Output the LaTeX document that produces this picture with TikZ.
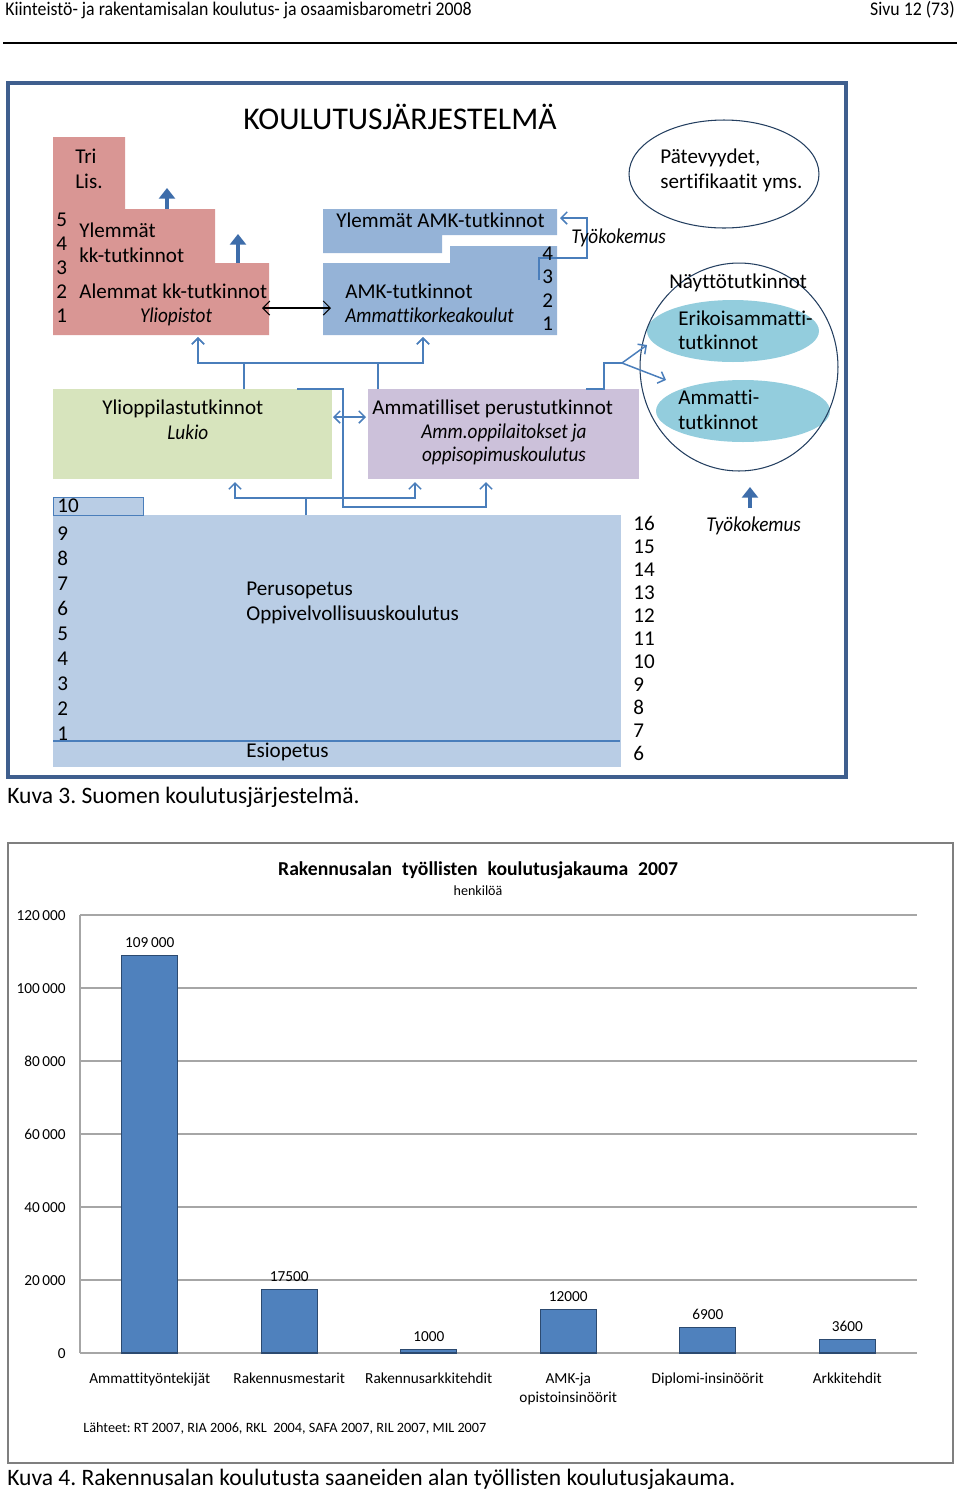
\documentclass[tikz,border=0pt]{standalone}
\usepackage{fontspec}
\setmainfont{Carlito}[Ligatures=NoCommon, ItalicFeatures={FakeStretch=0.91}]
\newfontfamily\headfont[FakeStretch=0.92, Ligatures=NoCommon]{Carlito}
\usetikzlibrary{arrows.meta,shapes.geometric}
\frenchspacing

\definecolor{framebl}{HTML}{3F5F8E}
\definecolor{linkbl}{HTML}{4A7EBB}
\definecolor{thickbl}{HTML}{3E6DAA}
\definecolor{redstep}{HTML}{D99694}
\definecolor{amkbl}{HTML}{95B3D7}
\definecolor{perusbl}{HTML}{B9CDE5}
\definecolor{lukiogr}{HTML}{D7E4BD}
\definecolor{ammpu}{HTML}{CCC1DA}
\definecolor{nayttote}{HTML}{93CDDD}
\definecolor{ellline}{HTML}{243F60}
\definecolor{barbl}{HTML}{4F81BD}
\definecolor{barline}{HTML}{2C4A70}
\definecolor{gridgr}{HTML}{A6A6A6}
\definecolor{chartfr}{HTML}{7F7F7F}

\begin{document}
\begin{tikzpicture}
        [
        x=0.02cm, y=-0.02cm,
        font=\fontsize{12}{14.5}\selectfont,
        txt/.style={inner sep=0pt, anchor=base west},
        ctxt/.style={inner sep=0pt, anchor=base},
        rtxt/.style={inner sep=0pt, anchor=base east},
        box/.style={rectangle, inner sep=0pt},
        oval/.style={ellipse, inner sep=0pt},
        link/.style={draw=linkbl, line width=0.85pt},
        linkto/.style={link, -{Straight Barb[length=3.5pt,width=7pt]}},
        linkboth/.style={link, {Straight Barb[length=3.5pt,width=7pt]}-{Straight Barb[length=3.5pt,width=7pt]}},
        upstep/.style={draw=thickbl, line width=2.8pt, -{Triangle[length=6pt,width=9pt]}},
        chartlab/.style={font=\fontsize{8.7}{10}\selectfont},
        bar/.style={fill=barbl, draw=barline, line width=0.6pt},
        ]
                \useasboundingbox (0,0) rectangle (960,1492);

                % page header
                \node[txt, font=\headfont\fontsize{11}{12}\selectfont] (hdr) at (5,15)
                        {Kiinteistö- ja rakentamisalan koulutus- ja osaamisbarometri 2008};
                \node[rtxt, font=\headfont\fontsize{11}{12}\selectfont] (sivu) at (955,15) {Sivu 12 (73)};
                \draw[black, line width=0.6pt] (3,43) -- (957,43);

                % frame of the diagram
                \draw[framebl, line width=2.2pt] (8,83) rectangle (846,777);
                \node[ctxt, font=\fontsize{18}{20}\selectfont] (title) at (400,129) {KOULUTUSJÄRJESTELMÄ};

                % yliopistot (stairs) and amk
                \fill[redstep] (53,137) -- (125,137) -- (125,209) -- (215,209) -- (215,263)
                        -- (269,263) -- (269,335) -- (53,335) -- cycle;
                \fill[amkbl] (323,209) -- (557,209) -- (557,235) -- (442,235) -- (442,253) -- (323,253) -- cycle;
                \fill[amkbl] (450,246) -- (557,246) -- (557,335) -- (323,335) -- (323,263) -- (450,263) -- cycle;

                % boxes
                \node[box, fill=lukiogr, minimum width=5.58cm, minimum height=1.8cm] (lukio) at (192.5,434) {};
                \node[box, fill=ammpu, minimum width=5.42cm, minimum height=1.8cm] (ammatill) at (503.5,434) {};
                \node[box, fill=perusbl, minimum width=11.36cm, minimum height=5.04cm] (perus) at (337,641) {};
                \node[box, fill=perusbl, draw=linkbl, line width=0.6pt, minimum width=1.8cm, minimum height=0.36cm] (kymppi) at (98.5,506.5) {};
                \draw[linkbl, line width=0.7pt] (53,741) -- (620,741);

                % ovals
                \node[oval, draw=ellline, line width=0.6pt, minimum width=3.8cm, minimum height=2.16cm] (patevyys) at (724,174) {};
                \node[oval, fill=nayttote, minimum width=3.44cm, minimum height=1.24cm] (erikois) at (733,331) {};
                \node[oval, fill=nayttote, minimum width=3.48cm, minimum height=1.24cm] (ammatti) at (743,411) {};
                \node[oval, draw=ellline, line width=0.6pt, minimum width=3.96cm, minimum height=4.16cm] (naytto) at (739,367) {};

                % connector ends
                \coordinate (yoin)    at (198,337);
                \coordinate (amkin)   at (423,337);
                \coordinate (lukout)  at (244,389);
                \coordinate (ammout)  at (378,389);
                \coordinate (lukloop) at (297,389);
                \coordinate (perout)  at (306,515);
                \coordinate (lukin)   at (235,482);
                \coordinate (ammin)   at (415,482);
                \coordinate (ammin2)  at (486,482);
                \coordinate (ammright) at (586,389);
                \coordinate (split)   at (622,363);
                \coordinate (erin)    at (647,345);
                \coordinate (amtin)   at (666,380);
                \coordinate (amkout)  at (539,280);
                \coordinate (ylamkin) at (560,218);
                \coordinate (yoside)  at (262,308);
                \coordinate (amkside) at (331,308);
                \coordinate (lukside) at (333,417);
                \coordinate (ammside) at (366,417);

                % drawing code
                \foreach \from/\to in {lukout/yoin,lukout/amkin,ammout/yoin,ammout/amkin}
                        \draw[linkto] (\from) -- ++(0,-26) -| (\to);
                \foreach \to in {lukin,ammin}
                        \draw[linkto] (perout) -- ++(0,-17) -| (\to);
                \draw[linkto] (lukloop) -- ++(46,0) -- ++(0,118) -| (ammin2);
                \draw[link] (ammright) -- ++(18,0) |- (split);
                \foreach \to in {erin,amtin} \draw[linkto] (split) -- (\to);
                \draw[linkto] (amkout) -- ++(0,-22) -- ++(48,0) |- (ylamkin);
                \draw[linkboth] (lukside) -- (ammside);
                \draw[black, line width=0.6pt, {Straight Barb[length=4pt,width=8pt]}-{Straight Barb[length=4pt,width=8pt]}] (yoside) -- (amkside);
                \foreach \x/\a/\b in {167/209/188, 238/263/234, 750/508/487}
                        \draw[upstep] (\x,\a) -- (\x,\b);

                % texts of yliopistot and amk
                \node[txt] (tri) at (75,163) {Tri};
                \node[txt] (lis) at (75,188) {Lis.};
                \foreach \n [count=\i] in {5,4,3,2,1}
                        \node[txt] (yo\n) at (56,202+24*\i) {\n};
                \node[txt] (ylemmat) at (79,237) {Ylemmät};
                \node[txt] (kktutk) at (79,262) {kk-tutkinnot};
                \node[txt] (alemmat) at (79,298) {Alemmat kk-tutkinnot};
                \node[ctxt] (yliop) at (176,322) {\itshape Yliopistot};
                \node[txt] (ylamk) at (336,227) {Ylemmät AMK-tutkinnot};
                \foreach \n/\y in {4/260,3/283,2/307,1/330}
                        \node[txt] (amk\n) at (542,\y) {\n};
                \node[txt] (amktutk) at (345,298) {AMK-tutkinnot};
                \node[txt] (amkkoul) at (345,322) {\itshape Ammattikorkeakoulut};
                \node[txt] (tyok1) at (571,243) {\itshape Työkokemus};

                % texts of ovals
                \node[txt] (pat1) at (660,163) {Pätevyydet,};
                \node[txt] (pat2) at (660,188) {sertifikaatit yms.};
                \node[txt] (naytt) at (669,288) {Näyttötutkinnot};
                \node[txt] (eri1) at (678,325) {Erikoisammatti-};
                \node[txt] (eri2) at (678,349) {tutkinnot};
                \node[txt] (amt1) at (678,404) {Ammatti-};
                \node[txt] (amt2) at (678,429) {tutkinnot};

                % texts of the middle row
                \node[txt] (ylioppi) at (102,414) {Ylioppilastutkinnot};
                \node[txt] (lukiot) at (167,439) {\itshape Lukio};
                \node[txt] (ammper) at (372,414) {Ammatilliset perustutkinnot};
                \node[ctxt] (ammopp) at (504,438) {\itshape Amm.oppilaitokset ja};
                \node[ctxt] (oppisop) at (504,461) {\itshape oppisopimuskoulutus};

                % texts of perusopetus
                \node[txt] (lk10) at (57,512) {10};
                \foreach \n [count=\i from 0] in {9,8,...,1}
                        \node[txt] (lk\n) at (57,540+25*\i) {\n};
                \foreach \n [count=\i from 0] in {16,15,...,6}
                        \node[txt] (ika\n) at (633,530+23*\i) {\n};
                \node[txt] (perust) at (246,595) {Perusopetus};
                \node[txt] (oppiv) at (246,620) {Oppivelvollisuuskoulutus};
                \node[txt] (esiop) at (246,757) {Esiopetus};
                \node[txt] (tyok2) at (706,531) {\itshape Työkokemus};
                \node[txt, font=\fontsize{13.4}{15}\selectfont] (kuva3) at (7,803) {Kuva 3. Suomen koulutusjärjestelmä.};

                % chart
                \draw[chartfr, line width=0.9pt] (8,843) rectangle (953,1463);
                \node[ctxt, font=\bfseries\fontsize{11.2}{12}\selectfont] (ctitle) at (478,875)
                        {Rakennusalan\hspace{0.5em}työllisten\hspace{0.5em}koulutusjakauma\hspace{0.5em}2007};
                \node[ctxt, font=\fontsize{8}{9}\selectfont] (csub) at (478,895) {henkilöä};
                \draw[gridgr, line width=0.7pt] (80,915) -- (80,1353);
                \foreach \v/\lab in {0/0,20/20\,000,40/40\,000,60/60\,000,80/80\,000,100/100\,000,120/120\,000}
                {
                        \draw[gridgr, line width=0.7pt] (80,1353-3.65*\v) -- (917,1353-3.65*\v);
                        \node[rtxt, chartlab] (ax\v) at (66,1358-3.65*\v) {\lab};
                }
                \foreach \i/\v/\lab in {1/109/109\,000,2/17.5/17500,3/1/1000,4/12/12000,5/6.9/6900,6/3.6/3600}
                {
                        \draw[bar] (80+139.5*\i-97.75,1353) rectangle (80+139.5*\i-41.75,1353-3.65*\v);
                        \node[ctxt, chartlab] (val\i) at (80+139.5*\i-69.75,1345-3.65*\v) {\lab};
                }
                \foreach \i/\lab in {1/Ammattityöntekijät,2/Rakennusmestarit,3/Rakennusarkkitehdit,4/AMK-ja,5/Diplomi-insinöörit,6/Arkkitehdit}
                        \node[ctxt, chartlab] (cat\i) at (80+139.5*\i-69.75,1383) {\lab};
                \node[ctxt, chartlab] (cat4b) at (568.25,1402) {opistoinsinöörit};
                \node[txt, font=\fontsize{8.1}{9}\selectfont] (lahteet) at (83,1432) {Lähteet: RT 2007, RIA 2006, RKL\ \ 2004, SAFA 2007, RIL 2007, MIL 2007};
                \node[txt, font=\fontsize{13.4}{15}\selectfont] (kuva4) at (7,1485)
                        {Kuva 4. Rakennusalan koulutusta saaneiden alan työllisten koulutusjakauma.};
\end{tikzpicture}
\end{document}
